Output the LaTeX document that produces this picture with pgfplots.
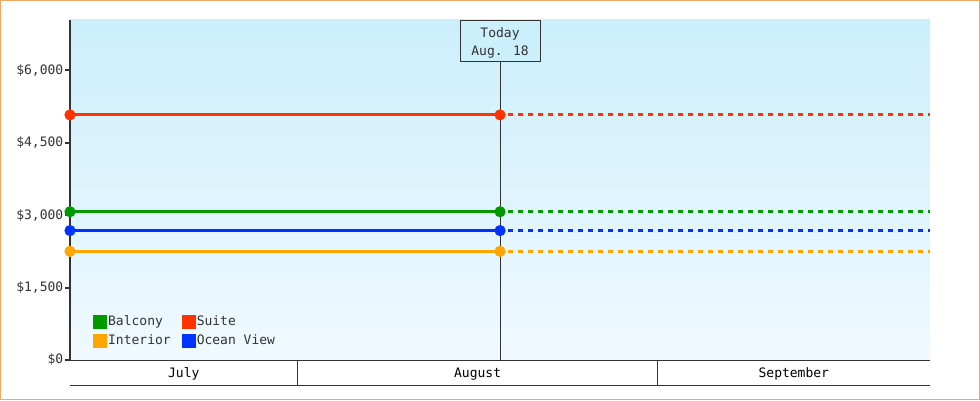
\documentclass[border=0pt]{standalone}
\usepackage{fontspec}
\setmainfont{DejaVu Sans Mono}
\usepackage{pgfplots}
\pgfplotsset{compat=1.18}
\definecolor{frame}{RGB}{238,170,100}
\definecolor{axisgray}{RGB}{51,51,51}
\definecolor{cBalcony}{RGB}{0,153,0}
\definecolor{cSuite}{RGB}{255,51,0}
\definecolor{cInterior}{RGB}{255,165,0}
\definecolor{cOcean}{RGB}{0,51,255}
\definecolor{bgtop}{RGB}{204,239,252}
\definecolor{bgbot}{RGB}{240,249,255}
\begin{document}
\fontsize{13}{18}\selectfont
\begin{tikzpicture}[x=1pt,y=1pt]
\useasboundingbox (0,0) rectangle (980,400);
\draw[frame, line width=1pt] (0.5,0.5) rectangle (979.5,399.5);
\begin{axis}[
  at={(70pt,40pt)}, anchor=south west,
  width=860pt, height=340pt, scale only axis,
  xmin=11.42, xmax=85.43, ymin=0, ymax=7040,
  axis background/.style={top color=bgtop, bottom color=bgbot},
  axis x line*=bottom, axis y line*=left,
  x axis line style={line width=1pt, color=axisgray, -},
  y axis line style={line width=2pt, color=axisgray, -},
  xtick=\empty,
  ytick={0,1500,3000,4500,6000},
  yticklabels={{\$0},{\$1,500},{\$3,000},{\$4,500},{\$6,000}},
  tick align=outside, major tick length=5pt,
  ytick style={line width=2pt, color=axisgray},
  yticklabel style={font=\fontsize{13}{15}\selectfont, text=axisgray, inner sep=0pt, xshift=-1.5pt},
  clip=false,
  legend columns=2,
  legend cell align=left,
  legend style={at={(0.0232,0.142)}, anchor=north west, draw=none, fill=none,
    font=\fontsize{13}{15}\selectfont, text=axisgray, row sep=3pt,
    nodes={inner xsep=1pt},
    /tikz/every odd column/.append style={column sep=0pt},
    /tikz/every even column/.append style={column sep=10pt}},
  legend image code/.code={\fill[#1] (0pt,-5.5pt) rectangle (11pt,5.5pt);},
  every axis plot/.append style={line width=3pt, mark size=4pt},
]
% today line
\draw[axisgray, line width=1pt] (axis cs:48.43,0) -- (axis cs:48.43,6200);
% solid (actual) parts
\addplot[cBalcony, mark=*] coordinates {(11.42,3070) (48.43,3070)};
\addlegendentry{Balcony}
\addplot[cSuite, mark=*] coordinates {(11.42,5075) (48.43,5075)};
\addlegendentry{Suite}
\addplot[cInterior, mark=*] coordinates {(11.42,2250) (48.43,2250)};
\addlegendentry{Interior}
\addplot[cOcean, mark=*] coordinates {(11.42,2680) (48.43,2680)};
\addlegendentry{Ocean View}
% dashed (projected) parts
\addplot[cBalcony, forget plot, dash pattern=on 5pt off 5pt, dash phase=-8pt] coordinates {(48.43,3070) (85.43,3070)};
\addplot[cSuite, forget plot, dash pattern=on 5pt off 5pt, dash phase=-8pt] coordinates {(48.43,5075) (85.43,5075)};
\addplot[cInterior, forget plot, dash pattern=on 5pt off 5pt, dash phase=-8pt] coordinates {(48.43,2250) (85.43,2250)};
\addplot[cOcean, forget plot, dash pattern=on 5pt off 5pt, dash phase=-8pt] coordinates {(48.43,2680) (85.43,2680)};
% today box
\node[draw=axisgray, line width=1pt, fill=bgtop, minimum width=80pt,
  minimum height=41pt, anchor=north, inner sep=0pt] (tbox)
  at (axis cs:48.43,7040) {};
\node[align=center, inner sep=0pt, text=axisgray] at ([yshift=-2pt]tbox.center) {Today\\Aug. 18};
% month band
\draw[axisgray, line width=1pt] ([yshift=-25pt]rel axis cs:0,0) -- ([yshift=-25pt]rel axis cs:1,0);
\draw[axisgray, line width=1pt] (axis cs:31,0) -- ([yshift=-25pt]axis cs:31,0);
\draw[axisgray, line width=1pt] (axis cs:62,0) -- ([yshift=-25pt]axis cs:62,0);
\node[text=black] at ([yshift=-14pt]axis cs:21.21,0) {July};
\node[text=black] at ([yshift=-14pt]axis cs:46.5,0) {August};
\node[text=black] at ([yshift=-14pt]axis cs:73.71,0) {September};
\end{axis}
\end{tikzpicture}
\end{document}
